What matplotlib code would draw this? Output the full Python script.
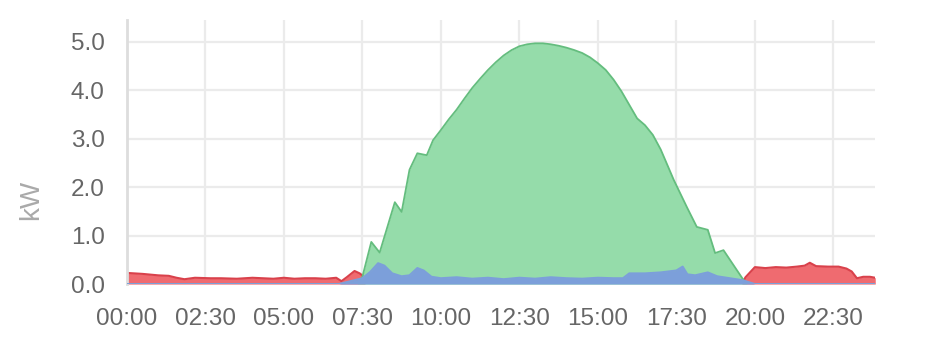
import matplotlib.pyplot as plt

# data (time of day, kW)
grid_t = ["00:00", "00:30", "01:00", "01:20", "01:35", "01:50", "02:10", "02:40", "03:00",
          "03:30", "04:00", "04:20", "04:40", "05:00", "05:20", "05:40", "06:00", "06:20",
          "06:40", "06:50", "07:00", "07:15", "07:25", "07:33", "07:35",
          "19:35", "19:42", "20:00", "20:20", "20:40", "21:00", "21:20", "21:35", "21:45",
          "21:57", "22:20", "22:40", "22:55", "23:05", "23:15", "23:27", "23:40", "23:50"]
grid_kw = [0.23, 0.21, 0.18, 0.17, 0.13, 0.10, 0.13, 0.12, 0.12,
           0.11, 0.13, 0.12, 0.11, 0.13, 0.11, 0.12, 0.12, 0.11,
           0.13, 0.06, 0.14, 0.27, 0.22, 0.15, 0.0,
           0.0, 0.14, 0.35, 0.33, 0.35, 0.34, 0.36, 0.38, 0.44,
           0.37, 0.36, 0.36, 0.32, 0.26, 0.12, 0.15, 0.15, 0.13]

solar_t = ["00:00", "07:20", "07:30", "07:47", "08:03", "08:32", "08:45", "09:00", "09:15",
           "09:33", "09:45", "10:00", "10:15", "10:30", "10:45", "11:00", "11:15", "11:30",
           "11:45", "12:00", "12:15", "12:30", "12:45", "13:00", "13:15", "13:30", "13:45",
           "14:00", "14:15", "14:30", "14:45", "15:00", "15:15", "15:30", "15:45", "16:00",
           "16:15", "16:30", "16:45", "17:00", "17:25", "17:50", "18:09", "18:30", "18:44",
           "19:00", "19:36", "19:45", "23:50"]
solar_kw = [0.0, 0.0, 0.15, 0.87, 0.65, 1.69, 1.49, 2.36, 2.70,
            2.66, 2.97, 3.18, 3.40, 3.60, 3.83, 4.05, 4.24, 4.42,
            4.58, 4.72, 4.83, 4.91, 4.95, 4.97, 4.97, 4.95, 4.92,
            4.88, 4.83, 4.77, 4.68, 4.56, 4.42, 4.22, 3.98, 3.70,
            3.42, 3.28, 3.08, 2.78, 2.15, 1.59, 1.18, 1.12, 0.64,
            0.70, 0.12, 0.0, 0.0]

home_t = ["00:00", "06:45", "07:00", "07:30", "07:45", "08:00", "08:12", "08:27", "08:45",
          "09:00", "09:15", "09:27", "09:42", "10:00", "10:30", "11:00", "11:30", "12:00",
          "12:30", "13:00", "13:30", "14:00", "14:30", "15:00", "15:30", "15:48", "16:00",
          "16:30", "17:00", "17:30", "17:42", "17:51", "18:06", "18:30", "18:48", "19:12",
          "19:36", "20:00", "23:50"]
home_kw = [0.0, 0.0, 0.04, 0.12, 0.25, 0.43, 0.38, 0.22, 0.16,
           0.18, 0.33, 0.28, 0.15, 0.12, 0.14, 0.11, 0.13, 0.10,
           0.13, 0.11, 0.14, 0.12, 0.11, 0.13, 0.12, 0.12, 0.22,
           0.22, 0.24, 0.28, 0.36, 0.20, 0.18, 0.24, 0.16, 0.12,
           0.08, 0.0, 0.0]

tick_labels = ["00:00", "02:30", "05:00", "07:30", "10:00", "12:30",
               "15:00", "17:30", "20:00", "22:30"]


def hours(stamps):
    out = []
    for s in stamps:
        h, m = s.split(":")
        out.append(int(h) + int(m) / 60.0)
    return out


plt.rcParams['font.family'] = ['Liberation Sans', 'DejaVu Sans']

fig = plt.figure(figsize=(9.4, 3.52), dpi=100)
ax = fig.add_axes([0.135, 0.193, 0.796, 0.75])

ax.fill_between(hours(grid_t), grid_kw, 0, color='#ef6b70', lw=0, zorder=2)
ax.plot(hours(grid_t), grid_kw, color='#d9414b', lw=1.5, zorder=2)
ax.fill_between(hours(solar_t), solar_kw, 0, color='#95dcaa', lw=0, zorder=3)
ax.plot(hours(solar_t), solar_kw, color='#64bd7e', lw=1.3, zorder=3)
ax.fill_between(hours(home_t), home_kw, 0, color='#7c9fda', lw=0, zorder=4)
ax.plot(hours(home_t), home_kw, color='#7c9fda', lw=1.5, zorder=4)

ax.set_xlim(0, 23.83)
ax.set_ylim(0, 5.45)
ax.set_xticks(hours(tick_labels))
ax.set_xticklabels(tick_labels)
ax.set_yticks([0, 1, 2, 3, 4, 5])
ax.set_yticklabels(["%.1f" % v for v in [0, 1, 2, 3, 4, 5]])
ax.tick_params(length=0, labelsize=17.5, labelcolor='#666666')
ax.tick_params(axis='x', pad=17)
ax.tick_params(axis='y', pad=16)

ax.grid(True, color='#ebebeb', lw=1.6, zorder=0)
ax.set_axisbelow(True)
for side in ['top', 'right', 'bottom']:
    ax.spines[side].set_visible(False)
ax.spines['left'].set_color('#dddddd')
ax.spines['left'].set_linewidth(2)

ax.set_ylabel("kW", fontsize=20, color='#aaaaaa')
ax.yaxis.set_label_coords(-0.11, 0.318)

fig.savefig("out.png", dpi=100)
